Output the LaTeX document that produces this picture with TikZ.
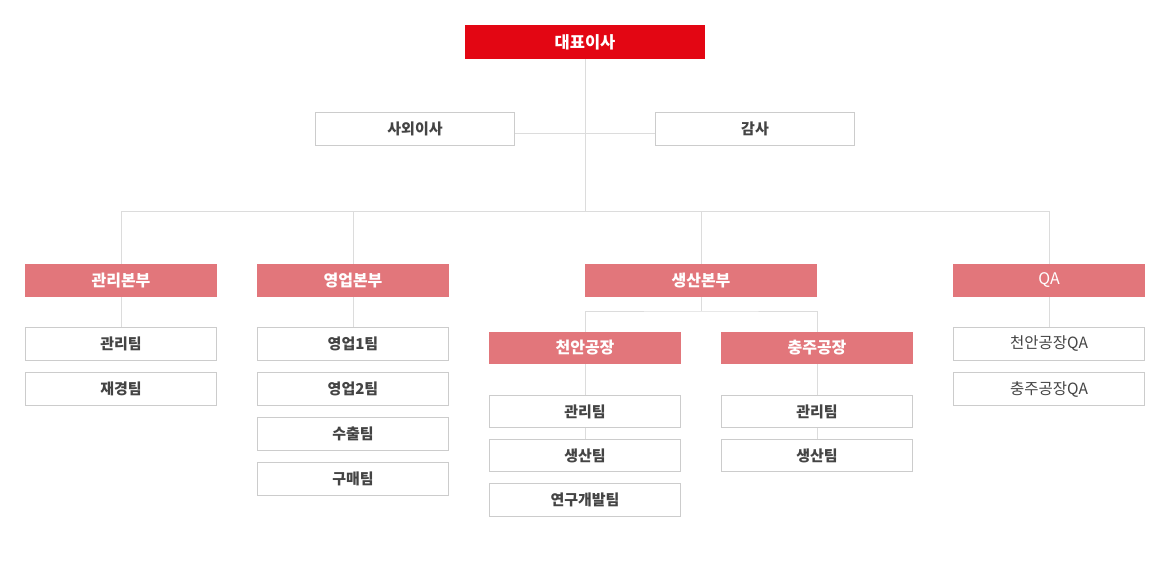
\documentclass[tikz,border=0pt]{standalone}
\usepackage{fontspec}
\setmainfont{Noto Sans CJK KR}
\usetikzlibrary{positioning}
\definecolor{ceored}{RGB}{227,6,19}
\definecolor{divpink}{RGB}{226,118,123}
\definecolor{boxgray}{RGB}{204,204,204}
\definecolor{linegray}{RGB}{220,220,220}
\definecolor{textgray}{RGB}{68,68,68}
\tikzstyle{ceobox} = [fill=ceored, text=white, font=\fontsize{16.5}{18}\selectfont\bfseries,
  minimum width=240, minimum height=34, inner sep=0]
\tikzstyle{divbox} = [fill=divpink, text=white, font=\fontsize{16}{18}\selectfont\bfseries,
  minimum width=192, minimum height=33, inner sep=0]
\tikzstyle{teambox} = [draw=boxgray, line width=1, fill=white, text=textgray,
  font=\fontsize{15}{17}\selectfont\bfseries, minimum width=191, minimum height=33, inner sep=0]
\tikzstyle{link} = [draw=linegray, line width=1]

\begin{document}
\begin{tikzpicture}[x=1pt, y=-1pt]
  \useasboundingbox (0, 0) rectangle (1174, 567);

  % top
  \node[ceobox] (ceo) at (585, 42) {대표이사};
  \node[teambox, minimum width=199] (outdir) at (415, 129) {사외이사};
  \node[teambox, minimum width=199] (audit) at (755, 129) {감사};

  \coordinate (bus) at (585, 211);
  \coordinate (busL) at (121, 211);
  \coordinate (busR) at (1049, 211);
  \draw[link] (ceo.south) -- (bus);
  \draw[link] ([yshift=-4]outdir.east) -- ([yshift=-4]audit.west);
  \draw[link] (busL) -- (busR);

  % divisions
  \node[divbox] (mgmt) at (121, 280.5) {관리본부};
  \node[divbox] (sales) at (353, 280.5) {영업본부};
  \node[divbox, minimum width=232] (prod) at (701, 280.5) {생산본부};
  \node[divbox, font=\fontsize{16}{18}\selectfont] (qa) at (1049, 280.5) {QA};
  \foreach \d in {mgmt, sales, prod, qa}
    \draw[link] (\d.north |- bus) -- (\d.north);

  % 관리본부
  \node[teambox] (mgmtA) at (121, 344) {관리팀};
  \node[teambox] (mgmtB) at (121, 389) {재경팀};
  \draw[link] (mgmt.south) -- (mgmtA.north);

  % 영업본부
  \node[teambox] (salesA) at (353, 344) {영업1팀};
  \node[teambox] (salesB) at (353, 389) {영업2팀};
  \node[teambox] (salesC) at (353, 434) {수출팀};
  \node[teambox] (salesD) at (353, 479) {구매팀};
  \draw[link] (sales.south) -- (salesA.north);

  % 생산본부
  \node[divbox, minimum height=32] (plantA) at (585, 348) {천안공장};
  \node[divbox, minimum height=32] (plantB) at (817, 348) {충주공장};
  \coordinate (fork) at (701, 311);
  \draw[link] (prod.south) -- (fork);
  \draw[link] (plantA.north) |- (fork) -| (plantB.north);

  \node[teambox, minimum height=32] (plantAa) at (585, 411.5) {관리팀};
  \node[teambox, minimum height=32] (plantAb) at (585, 455.5) {생산팀};
  \node[teambox] (plantAc) at (585, 500) {연구개발팀};
  \draw[link] (plantA.south) -- (plantAa.north);
  \draw[link] (plantAa.south) -- (plantAb.north);

  \node[teambox, minimum height=32] (plantBa) at (817, 411.5) {관리팀};
  \node[teambox, minimum height=32] (plantBb) at (817, 455.5) {생산팀};
  \draw[link] (plantB.south) -- (plantBa.north);
  \draw[link] (plantBa.south) -- (plantBb.north);

  % QA
  \node[teambox, font=\fontsize{15.5}{17}\selectfont] (qaA) at (1049, 344) {천안공장QA};
  \node[teambox, font=\fontsize{15.5}{17}\selectfont] (qaB) at (1049, 389) {충주공장QA};
  \draw[link] (qa.south) -- (qaA.north);
\end{tikzpicture}
\end{document}
